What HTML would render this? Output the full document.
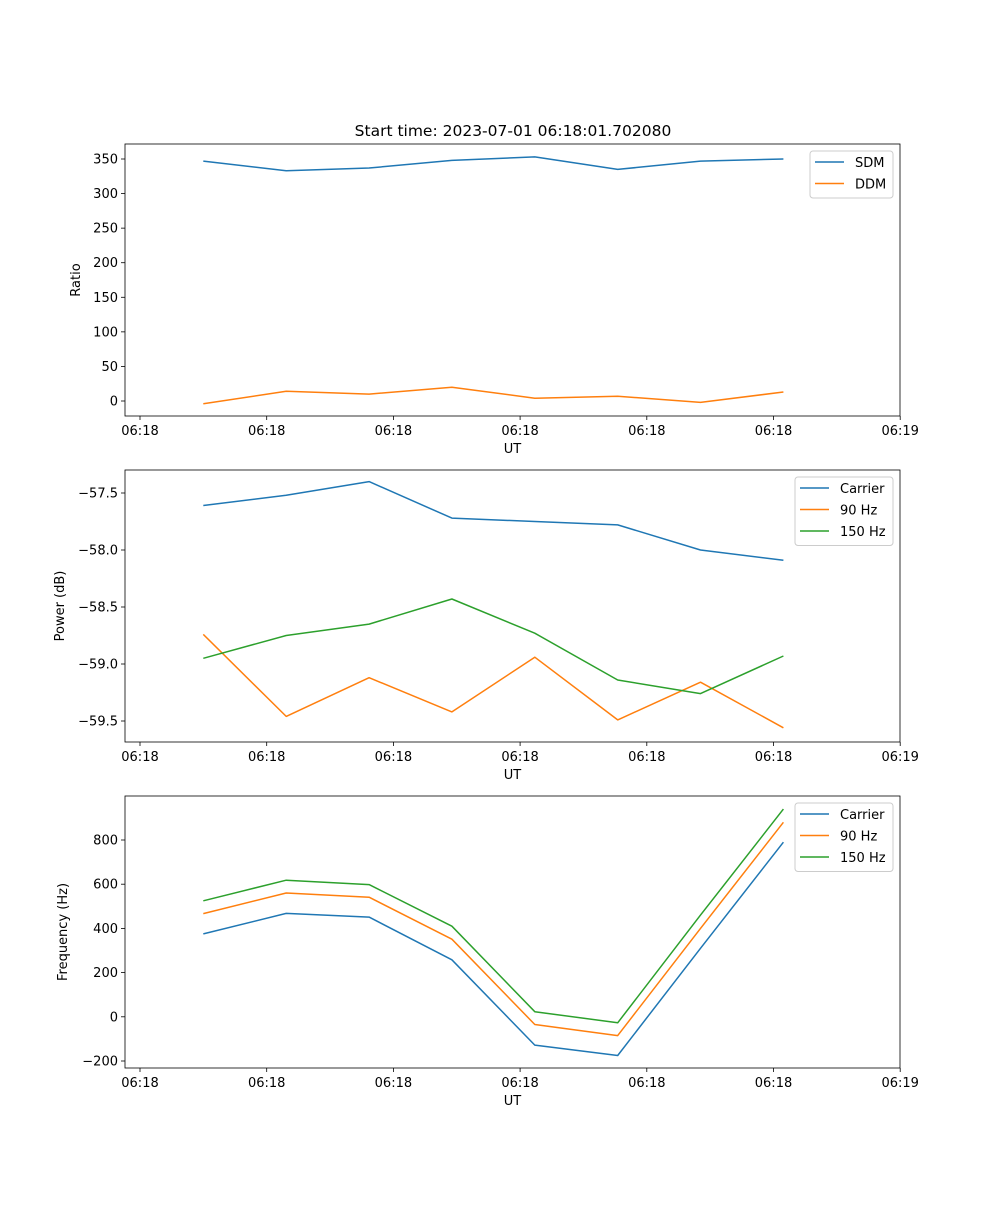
<!DOCTYPE html>
<html><head><meta charset="utf-8"><style>
html,body{margin:0;padding:0;background:#fff;}
svg text{font-family:"DejaVu Sans","Liberation Sans",sans-serif;font-size:13px;fill:#000;}
</style></head><body>
<svg id="fig" width="1000" height="1200" xmlns="http://www.w3.org/2000/svg">
<rect width="1000" height="1200" fill="#fff"/>
<text x="513" y="136" text-anchor="middle" style="font-size:15.5px">Start time: 2023-07-01 06:18:01.702080</text>
</svg>
<script>
const times = [1.70, 2.354, 3.008, 3.662, 4.316, 4.97, 5.624, 6.278];
const xTickTimes = [1.2, 2.2, 3.2, 4.2, 5.2, 6.2, 7.2];
const xTickLabels = ["06:18","06:18","06:18","06:18","06:18","06:18","06:19"];

const sdm = [347, 333, 337, 348, 353, 335, 347, 350];
const ddm = [-4, 14, 10, 20, 4, 7, -2, 13];
const ratioTicks = [0, 50, 100, 150, 200, 250, 300, 350];

const powCarrier = [-57.61, -57.52, -57.40, -57.72, -57.75, -57.78, -58.00, -58.09];
const pow90 = [-58.74, -59.46, -59.12, -59.42, -58.94, -59.49, -59.16, -59.56];
const pow150 = [-58.95, -58.75, -58.65, -58.43, -58.73, -59.14, -59.26, -58.93];
const powTicks = [-57.5, -58.0, -58.5, -59.0, -59.5];
const powTickLabels = ["\u221257.5","\u221258.0","\u221258.5","\u221259.0","\u221259.5"];

const freqCarrier = [375, 468, 451, 258, -128, -175, 310, 790];
const freq90 = [467, 560, 541, 351, -35, -85, 400, 880];
const freq150 = [525, 618, 598, 410, 23, -27, 460, 940];
const freqTicks = [-200, 0, 200, 400, 600, 800];
const freqTickLabels = ["\u2212200","0","200","400","600","800"];

const NS = "http://www.w3.org/2000/svg";
const svg = document.getElementById('fig');
function mk(tag, attrs, parent){const e=document.createElementNS(NS,tag);for(const k in attrs)e.setAttribute(k,attrs[k]);(parent||svg).appendChild(e);return e;}
const L=125,R=900;
function xScale(t){return 140+(t-1.2)*126.7;}

function panel(name, top, bottom, v0, p0, v1, p1, yTicks, yLabels, ylabel, series, legend){
  const yScale=v=>p0+(v-v0)*(p1-p0)/(v1-v0);
  const g=mk('g',{});
  
  
  yTicks.forEach((v,i)=>{
    const y=yScale(v);
    const tk=mk('line',{x1:L-4,x2:L,y1:y,y2:y,stroke:'#000','stroke-width':0.8},g);
    
    
    const tx=mk('text',{x:L-7,y:y+4.5,'text-anchor':'end'},g);
    
    
    tx.textContent=yLabels?yLabels[i]:String(v);
  });
  xTickTimes.forEach((t,i)=>{
    const x=xScale(t);
    const tk=mk('line',{x1:x,x2:x,y1:bottom,y2:bottom+4,stroke:'#000','stroke-width':0.8},g);
    
    
    const tx=mk('text',{x:x,y:bottom+19,'text-anchor':'middle'},g);
    
    
    tx.textContent=xTickLabels[i];
  });
  const xl=mk('text',{x:(L+R)/2,y:bottom+37,'text-anchor':'middle'},g);
  
  
  xl.textContent='UT';
  const cy=(top+bottom)/2;
  const yl=mk('text',{x:0,y:0,'text-anchor':'middle',transform:`translate(${ylabel[1]},${cy}) rotate(-90)`},g);
  
  
  yl.textContent=ylabel[0];
  series.forEach(s=>{
    const pts=s.vals.map((v,i)=>xScale(times[i]).toFixed(1)+','+yScale(v).toFixed(1)).join(' ');
    const pl=mk('polyline',{points:pts,fill:'none',stroke:s.color,'stroke-width':1.5,'stroke-linejoin':'round'},g);
    
    
  });
  const fr=mk('rect',{x:L,y:top,width:R-L,height:bottom-top,fill:'none',stroke:'#000','stroke-width':0.8},g);
  
  
  const lg=mk('g',{},g);
  
  
  const lb=mk('rect',{x:legend.x,y:top+7,width:legend.w,height:series.length*21.5+4,rx:3,fill:'#fff','fill-opacity':0.8,stroke:'#ccc','stroke-width':1},lg);
  
  
  series.forEach((s,i)=>{
    const y=top+18+i*21.5;
    const ll=mk('line',{x1:legend.x+5,x2:legend.x+34,y1:y,y2:y,stroke:s.color,'stroke-width':1.5},lg);
    
    
    const lt=mk('text',{x:legend.x+45,y:y+5},lg);
    
    
    lt.textContent=s.label;
  });
}
const C1='#1f77b4',C2='#ff7f0e',C3='#2ca02c';
panel('ratio',144,416,0,401,350,159,ratioTicks,null,['Ratio',80],
  [{key:'sdm',label:'SDM',vals:sdm,color:C1},{key:'ddm',label:'DDM',vals:ddm,color:C2}],{x:810,w:83});
panel('power',470,742,-57.5,493,-59.5,721,powTicks,powTickLabels,['Power (dB)',64],
  [{key:'carrier',label:'Carrier',vals:powCarrier,color:C1},{key:'90hz',label:'90 Hz',vals:pow90,color:C2},{key:'150hz',label:'150 Hz',vals:pow150,color:C3}],{x:795,w:98});
panel('frequency',796,1068,800,840,-200,1061,freqTicks,freqTickLabels,['Frequency (Hz)',67],
  [{key:'carrier',label:'Carrier',vals:freqCarrier,color:C1},{key:'90hz',label:'90 Hz',vals:freq90,color:C2},{key:'150hz',label:'150 Hz',vals:freq150,color:C3}],{x:795,w:98});
</script>
</body></html>
